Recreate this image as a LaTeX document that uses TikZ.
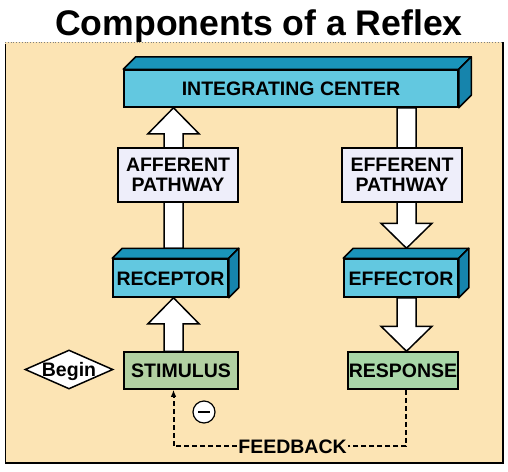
\documentclass[tikz,border=0pt]{standalone}
\usepackage{fontspec}
\setmainfont{Liberation Sans}
\usetikzlibrary{calc,arrows.meta,shapes.geometric}
\definecolor{peach}{HTML}{FCE4B4}
\definecolor{cyanfront}{HTML}{62C8E0}
\definecolor{cyantop}{HTML}{1A94BA}
\definecolor{cyanside}{HTML}{1684AC}
\definecolor{lavender}{HTML}{EEEEFA}
\definecolor{stimgreen}{HTML}{B2D0A2}
\definecolor{respgreen}{HTML}{A8D6A8}
\newcommand\blkup[2]{\draw[blockarr] let \p1=(#1), \p2=(#2) in
  (\x1-9.5pt,\y1) -- (\x1-9.5pt,\y2-26pt) -- (\x1-25.5pt,\y2-26pt) -- (\x1,\y2)
  -- (\x1+25.5pt,\y2-26pt) -- (\x1+9.5pt,\y2-26pt) -- (\x1+9.5pt,\y1) -- cycle;}
\newcommand\blkdown[2]{\draw[blockarr] let \p1=(#1), \p2=(#2) in
  (\x1-9.5pt,\y1) -- (\x1-9.5pt,\y2+25pt) -- (\x1-25.5pt,\y2+25pt) -- (\x1,\y2)
  -- (\x1+25.5pt,\y2+25pt) -- (\x1+9.5pt,\y2+25pt) -- (\x1+9.5pt,\y1) -- cycle;}
\newcommand\solidfaces[2]{%
  \draw[face, fill=cyantop] (#1.north west) -- ++(#2,-#2) -- ($(#1.north east)+(#2,-#2)$) -- (#1.north east) -- cycle;
  \draw[face, fill=cyanside] (#1.north east) -- ++(#2,-#2) -- ($(#1.south east)+(#2,-#2)$) -- (#1.south east) -- cycle;}
\begin{document}
\begin{tikzpicture}[x=1pt,y=-1pt,
  lbl/.style={font=\fontsize{19.5}{20}\selectfont\bfseries, inner sep=0pt, align=center},
  caps/.style={text height=14pt, text depth=0pt},
  frontbox/.style={lbl, caps, draw, line width=1.5pt, fill=cyanfront},
  flatbox/.style={lbl, draw, line width=1.5pt},
  face/.style={draw, line width=1.5pt, line join=round},
  blockarr/.style={draw, fill=white, line width=1.5pt, line join=miter},
  fbline/.style={line width=2pt, dash pattern=on 5pt off 3pt},
  beginshape/.style={lbl, caps, diamond, draw, fill=white, line width=1.5pt, aspect=2.256, minimum width=88pt, minimum height=39pt}
]
\useasboundingbox (0,0) rectangle (508,471);
% title
\node[anchor=base, inner sep=0pt, font=\fontsize{35.6}{40}\selectfont\bfseries] (title) at (259,35) {Components of a Reflex};
% panel
\fill[peach] (5,42) rectangle (503,463);
\draw[line width=0.8pt, gray, dotted] (5,42) -- (503,42);
\draw[line width=1pt] (5,44) -- (5,463);
\draw[line width=2pt] (503,42) -- (503,463) -- (5,463);
% nodes
\node[frontbox, minimum width=334pt, minimum height=37pt] (ic) at (291,88.5) {INTEGRATING CENTER};
\node[frontbox, minimum width=115pt, minimum height=38pt] (rec) at (170.5,278) {RECEPTOR};
\node[frontbox, minimum width=114pt, minimum height=38pt] (effr) at (401,278) {EFFECTOR};
% block arrows
\blkup{$(rec.north)+(3,-10)$}{ic.south}
\blkdown{$(ic.south)+(115.5,0)$}{$(effr.north)+(0,-10)$}
\node[flatbox, fill=lavender, minimum width=120pt, minimum height=54pt] (aff) at (178,175) {AFFERENT\\PATHWAY};
\node[flatbox, fill=lavender, minimum width=120pt, minimum height=54pt] (eff) at (402,175) {EFFERENT\\PATHWAY};
\node[flatbox, caps, fill=stimgreen, minimum width=114pt, minimum height=37pt] (stim) at (181,370.5) {STIMULUS};
\node[flatbox, caps, fill=respgreen, minimum width=110pt, minimum height=37pt] (resp) at (403,370.5) {RESPONSE};
\blkup{$(stim.north)+(-7.5,0)$}{rec.south}
\blkdown{$(effr.south)+(5.5,0)$}{resp.north}
% 3D faces
\solidfaces{ic}{12.5}
\solidfaces{rec}{10}
\solidfaces{effr}{10}
% begin
\node[beginshape] (begin) at (69,369.5) {Begin};
% feedback
\node[lbl, caps, inner xsep=1pt] (fb) at (292.5,446) {FEEDBACK};
\draw[fbline] ([xshift=3pt]resp.south) |- (fb.east);
\draw[fbline, -{Latex[length=7pt,width=5.5pt]}] (fb.west) -| ([xshift=-7.5pt]stim.south);
% negative sign
\node[circle, draw, fill=white, line width=1.2pt, minimum size=22pt, inner sep=0pt] (neg) at (204,412) {};
\draw[line width=2pt] ([xshift=-6pt]neg.center) -- ([xshift=6pt]neg.center);
\end{tikzpicture}
\end{document}
